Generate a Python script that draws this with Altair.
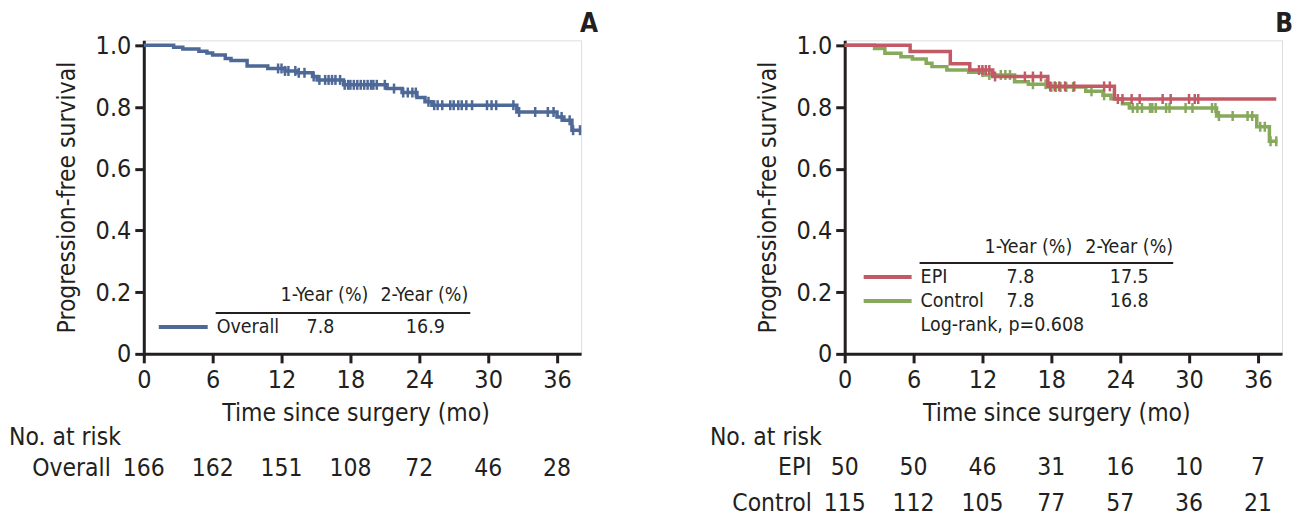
import altair as alt
import pandas as pd

FONT = "Liberation Sans Narrow, DejaVu Sans Condensed, Roboto Condensed, Arial Narrow, Liberation Sans, sans-serif"
INK = "#231f20"
BLUE = "#4e6898"
RED = "#c25a66"
GREEN = "#86a95c"

# ---------------- data ----------------
ticks_x = [0, 6, 12, 18, 24, 30, 36]
ticks_y = [0, 0.2, 0.4, 0.6, 0.8, 1.0]

# Panel A : overall progression-free survival (step times / survival after step)
overall_time = [0, 2.6, 3.4, 4.8, 5.5, 6.0, 7.1, 7.6, 9.0, 10.8, 12.3, 13.3, 14.7, 15.1,
                17.4, 21.2, 22.5, 23.8, 24.5, 25.1, 32.5, 36.0, 36.6, 37.3, 38.1]
overall_surv = [1.0, 0.994, 0.988, 0.981, 0.975, 0.969, 0.957, 0.951, 0.933, 0.925, 0.917,
                0.911, 0.899, 0.888, 0.872, 0.860, 0.847, 0.831, 0.817, 0.806, 0.784, 0.768,
                0.757, 0.725, 0.725]
overall_cens = [11.7, 12.0, 12.3, 12.6, 13.2, 13.5, 14.0, 14.8, 15.3, 15.8, 16.1, 16.4, 16.7,
                17.1, 17.5, 17.8, 18.0, 18.3, 18.6, 18.9, 19.2, 19.5, 19.8, 20.0, 20.3, 21.0,
                21.8, 22.6, 23.0, 23.4, 23.7, 24.8, 25.3, 25.6, 26.0, 26.7, 27.0, 27.4, 27.7,
                28.1, 28.6, 29.9, 30.3, 30.7, 32.2, 32.7, 34.1, 35.2, 35.7, 36.4, 37.1, 37.4, 38.0]

# Panel B : EPI
epi_time = [0, 5.7, 9.2, 10.9, 12.9, 17.7, 23.5, 37.6]
epi_surv = [1.0, 0.980, 0.940, 0.920, 0.899, 0.867, 0.826, 0.826]
epi_cens = [11.7, 12.0, 12.3, 12.6, 13.1, 15.7, 16.4, 17.1, 17.9, 18.3, 18.7, 19.2, 20.0,
            22.6, 23.1, 23.8, 24.2, 25.0, 25.7, 27.7, 28.4, 30.0, 30.5, 30.8]

# Panel B : Control
control_time = [0, 2.6, 3.5, 4.9, 5.9, 7.1, 7.6, 8.9, 10.8, 12.2, 14.8, 16.0, 17.7, 21.0,
                22.5, 23.2, 24.2, 24.8, 32.4, 35.9, 37.0, 37.7]
control_surv = [1.0, 0.990, 0.974, 0.963, 0.956, 0.942, 0.931, 0.920, 0.913, 0.904, 0.882,
                0.874, 0.865, 0.851, 0.838, 0.827, 0.811, 0.797, 0.771, 0.736, 0.689, 0.689]
control_cens = [12.0, 12.6, 13.6, 14.0, 14.4, 16.4, 17.5, 18.0, 18.4, 18.8, 19.3, 19.9, 21.5,
                22.6, 25.1, 25.5, 25.9, 26.6, 26.8, 27.1, 28.0, 28.3, 29.7, 30.3, 32.0, 32.3,
                32.6, 33.8, 35.1, 35.5, 36.2, 36.6, 37.1, 37.6]

risk_times = [0, 6, 12, 18, 24, 30, 36]
risk_overall = [166, 162, 151, 108, 72, 46, 28]
risk_epi = [50, 50, 46, 31, 16, 10, 7]
risk_control = [115, 112, 105, 77, 57, 36, 21]

table_header = ["1-Year (%)", "2-Year (%)"]
overall_rates = ["7.8", "16.9"]
epi_rates = ["7.8", "17.5"]
control_rates = ["7.8", "16.8"]
logrank_text = "Log-rank, p=0.608"

# ---------------- geometry / style ----------------
XMAX = 38.1
W = 438
H = 314
YMAX = 314 / 309
TICK_FS = 25
TITLE_FS = 24.5
RISK_FS = 24.5
LEG_FS = 19.5

xscale = alt.Scale(domain=[0, XMAX], nice=False, zero=False)
yscale = alt.Scale(domain=[0, YMAX], nice=False, zero=False)

axis_common = dict(grid=False, domainColor=INK, domainWidth=3, tickColor=INK, tickWidth=3,
                   tickSize=9, labelFont=FONT, labelFontSize=TICK_FS, labelColor=INK,
                   titleFont=FONT, titleFontSize=TITLE_FS, titleFontWeight="normal",
                   titleColor=INK, labelOverlap=False, labelFlush=False)
xaxis = alt.Axis(values=ticks_x, title="Time since surgery (mo)", labelPadding=5,
                 titlePadding=9, titleX=212, titleAlign="center", **axis_common)
yaxis = alt.Axis(values=ticks_y, title="Progression-free survival", labelPadding=4,
                 titlePadding=16,
                 labelExpr="datum.value == 0 ? '0' : format(datum.value, '.1f')",
                 **axis_common)


def curve(times, surv, color):
    df = pd.DataFrame({"time": times, "surv": surv})
    return alt.Chart(df).mark_line(interpolate="step-after", strokeWidth=3.5,
                                   color=color, clip=False).encode(
        x=alt.X("time:Q", scale=xscale, axis=xaxis),
        y=alt.Y("surv:Q", scale=yscale, axis=yaxis),
    )


def censor(cens, times, surv, color):
    vals = []
    for c in cens:
        s = surv[0]
        for t, v in zip(times, surv):
            if t <= c:
                s = v
        vals.append(s)
    df = pd.DataFrame({"time": cens, "surv": vals})
    return alt.Chart(df).mark_tick(orient="vertical", size=10, thickness=2.5,
                                   color=color, opacity=1).encode(
        x=alt.X("time:Q", scale=xscale, axis=xaxis),
        y=alt.Y("surv:Q", scale=yscale, axis=yaxis),
    )


def label(text, x, y, align="left", size=LEG_FS, weight="normal", baseline="middle"):
    return alt.Chart(pd.DataFrame({"label": [text]})).mark_text(
        align=align, baseline=baseline, font=FONT, fontSize=size,
        fontWeight=weight, color=INK).encode(
        x=alt.value(x), y=alt.value(y), text="label:N")


def seg(x1, x2, y, color, width, opacity=1):
    return alt.Chart(pd.DataFrame({"k": [0]})).mark_rule(
        color=color, strokeWidth=width, opacity=opacity).encode(
        x=alt.value(x1), x2=alt.value(x2), y=alt.value(y))


def risk_row(values, y):
    df = pd.DataFrame({"time": risk_times, "n": [str(v) for v in values]})
    return alt.Chart(df).mark_text(align="center", baseline="middle", font=FONT,
                                   fontSize=RISK_FS, color=INK).encode(
        x=alt.X("time:Q", scale=xscale, axis=xaxis),
        y=alt.value(y),
        text="n:N",
    )


RISK_X = -135
ROWLAB_X = -33

panel_a = alt.layer(
    curve(overall_time, overall_surv, BLUE),
    censor(overall_cens, overall_time, overall_surv, BLUE),
    label(table_header[0], 181, 255, "center"),
    label(table_header[1], 281, 255, "center"),
    seg(72, 327, 273, INK, 2),
    seg(15, 64, 287, BLUE, 4),
    label("Overall", 73, 287),
    label(overall_rates[0], 177, 287, "center"),
    label(overall_rates[1], 282, 287, "center"),
    label("No. at risk", RISK_X, 398, size=RISK_FS),
    label("Overall", ROWLAB_X, 429, "right", size=RISK_FS),
    risk_row(risk_overall, 429),
    seg(430, 450, -31, "white", 1, opacity=0),
    label("A", 455, -29.5, "right", size=26, weight="bold", baseline="top"),
).properties(width=W, height=H)

panel_b = alt.layer(
    curve(control_time, control_surv, GREEN),
    censor(control_cens, control_time, control_surv, GREEN),
    curve(epi_time, epi_surv, RED),
    censor(epi_cens, epi_time, epi_surv, RED),
    label(table_header[0], 184, 207, "center"),
    label(table_header[1], 285, 207, "center"),
    seg(75, 329, 223, INK, 2),
    seg(19, 67, 237, RED, 4),
    seg(19, 67, 261, GREEN, 4),
    label("EPI", 76, 237),
    label(epi_rates[0], 176, 237, "center"),
    label(epi_rates[1], 285, 237, "center"),
    label("Control", 76, 261),
    label(control_rates[0], 176, 261, "center"),
    label(control_rates[1], 285, 261, "center"),
    label(logrank_text, 76, 285),
    label("No. at risk", RISK_X, 398, size=RISK_FS),
    label("EPI", ROWLAB_X, 428, "right", size=RISK_FS),
    risk_row(risk_epi, 428),
    label("Control", ROWLAB_X, 464, "right", size=RISK_FS),
    risk_row(risk_control, 464),
    seg(424, 444, -31, "white", 1, opacity=0),
    label("B", 449, -29.5, "right", size=26, weight="bold", baseline="top"),
).properties(width=W, height=H)

chart = alt.hconcat(panel_a, panel_b, spacing=110).properties(
    padding=0, background="white"
).configure_view(strokeWidth=0, stroke="transparent").configure(font=FONT)

chart.save("out.html", embed_options={"renderer": "svg", "actions": False})
